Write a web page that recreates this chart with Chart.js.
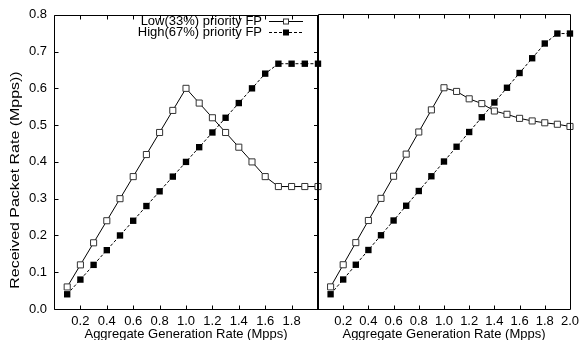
<!DOCTYPE html>
<html>
<head>
<meta charset="utf-8">
<script src="https://cdn.jsdelivr.net/npm/chart.js@4.4.1/dist/chart.umd.min.js"></script>
<style>
  body { margin: 0; background: #fff; }
  #wrap { position: relative; width: 584px; height: 340px; overflow: hidden; }
  #wrap canvas { position: absolute; top: 0; }
</style>
</head>
<body>
<div id="wrap">
  <canvas id="left" width="326" height="340" style="left:0;width:326px;height:340px"></canvas>
  <canvas id="right" width="284" height="340" style="left:300px;width:284px;height:340px"></canvas>
</div>
<script>
// generation rate (Mpps), same for every series
const rates = [0.1, 0.2, 0.3, 0.4, 0.5, 0.6, 0.7, 0.8, 0.9, 1.0, 1.1, 1.2, 1.3, 1.4, 1.5, 1.6, 1.7, 1.8, 1.9, 2.0];

// left panel
const leftLow  = [0.06, 0.12, 0.18, 0.24, 0.30, 0.36, 0.42, 0.48, 0.54, 0.60, 0.56, 0.52, 0.48, 0.44, 0.40, 0.36, 0.333, 0.333, 0.333, 0.333];
const leftHigh = [0.04, 0.08, 0.12, 0.16, 0.20, 0.24, 0.28, 0.32, 0.36, 0.40, 0.44, 0.48, 0.52, 0.56, 0.60, 0.64, 0.667, 0.667, 0.667, 0.667];

// right panel
const rightLow  = [0.06, 0.12, 0.18, 0.24, 0.30, 0.36, 0.42, 0.48, 0.54, 0.60, 0.59, 0.57, 0.557, 0.537, 0.528, 0.517, 0.510, 0.505, 0.501, 0.495];
const rightHigh = [0.04, 0.08, 0.12, 0.16, 0.20, 0.24, 0.28, 0.32, 0.36, 0.40, 0.44, 0.48, 0.52, 0.56, 0.60, 0.64, 0.68, 0.72, 0.747, 0.747];

const leftXTicks  = [0.2, 0.4, 0.6, 0.8, 1.0, 1.2, 1.4, 1.6, 1.8];
const rightXTicks = [0.2, 0.4, 0.6, 0.8, 1.0, 1.2, 1.4, 1.6, 1.8, 2.0];
const yTicks = [0.0, 0.1, 0.2, 0.3, 0.4, 0.5, 0.6, 0.7, 0.8];

const labelLow = 'Low(33%) priority FP';
const labelHigh = 'High(67%) priority FP';
const xTitle = 'Aggregate Generation Rate (Mpps)';
const yTitle = 'Received Packet Rate (Mpps))';

const FONT = '"Liberation Sans", Arial, Helvetica, sans-serif';
Chart.defaults.font.family = FONT;
Chart.defaults.color = '#000';

const pts = arr => arr.map((v, i) => ({ x: rates[i], y: v }));

function lowSet(arr) {
    return {
        label: labelLow, data: pts(arr),
        borderColor: '#000', borderWidth: 1,
        pointStyle: 'rect', pointRadius: 4.3, pointBorderWidth: 1,
        pointBackgroundColor: '#fff', pointBorderColor: '#333',
        clip: false
    };
}
function highSet(arr) {
    return {
        label: labelHigh, data: pts(arr),
        borderColor: '#000', borderWidth: 1, borderDash: [3, 2],
        pointStyle: 'rect', pointRadius: 4.5, pointBorderWidth: 0,
        pointBackgroundColor: '#000', pointBorderColor: '#000',
        clip: false
    };
}

function fixTicks(list) {
    return function(scale) { scale.ticks = list.map(v => ({ value: v })); };
}

function frameLine(ctx, x1, y1, x2, y2, w) {
    ctx.beginPath();
    ctx.lineWidth = w || 1;
    ctx.moveTo(x1, y1);
    ctx.lineTo(x2, y2);
    ctx.stroke();
}

function drawFrame(chart, xList, leftTicks, dividerTicks, dividerRight) {
    const ctx = chart.ctx, a = chart.chartArea;
    const xs = chart.scales.x, ys = chart.scales.y;
    const L = Math.round(a.left) + 0.5, T = Math.round(a.top) + 0.5;
    const B = Math.round(a.bottom) + 0.5, R = Math.round(a.right);
    ctx.save();
    ctx.strokeStyle = '#000';
    frameLine(ctx, L, T, R, T);
    frameLine(ctx, L, B, R, B);
    frameLine(ctx, L, T, L, B);
    if (dividerRight) frameLine(ctx, R, T - 0.5, R, B + 0.5, 2);
    else frameLine(ctx, R + 0.5, T, R + 0.5, B);
    xList.forEach(v => {
        const px = Math.round(xs.getPixelForValue(v)) + 0.5;
        frameLine(ctx, px, B, px, B - 4);
        frameLine(ctx, px, T, px, T + 4);
    });
    yTicks.forEach(v => {
        const py = Math.round(ys.getPixelForValue(v)) + 0.5;
        if (leftTicks) frameLine(ctx, L, py, L + 4, py);
        if (dividerTicks) frameLine(ctx, R - 1, py, R - 4, py);
    });
    ctx.restore();
}

const leftDecor = {
    id: 'leftDecor',
    afterDatasetsDraw(chart) {
        drawFrame(chart, leftXTicks, true, true, true);
        const ctx = chart.ctx;
        ctx.save();
        ctx.fillStyle = '#000';
        ctx.font = '12px ' + FONT;
        // y axis title (stretched along its length like the original)
        ctx.translate(16, 180);
        ctx.rotate(-Math.PI / 2);
        ctx.scale(1.33, 1);
        ctx.textAlign = 'center';
        ctx.textBaseline = 'middle';
        ctx.fillText(yTitle, 0, 0);
        ctx.restore();

        // legend
        ctx.save();
        ctx.font = '13px ' + FONT;
        ctx.textAlign = 'right';
        ctx.textBaseline = 'middle';
        ctx.fillStyle = '#000';
        const rows = [[labelLow, chart.data.datasets[0], 21], [labelHigh, chart.data.datasets[1], 32]];
        rows.forEach(([txt, ds, y]) => {
            ctx.fillText(txt, 262, y);
            ctx.strokeStyle = '#000';
            ctx.lineWidth = 1;
            ctx.setLineDash(ds.borderDash || []);
            frameLine(ctx, 269, y + 0.5, 303, y + 0.5);
            ctx.setLineDash([]);
            ctx.fillStyle = ds.pointBackgroundColor;
            ctx.fillRect(283, y - 2.5, 6, 6);
            if (ds.pointBorderWidth) {
                ctx.strokeStyle = ds.pointBorderColor;
                ctx.strokeRect(283.5, y - 2, 5, 5);
            }
            ctx.fillStyle = '#000';
        });
        ctx.restore();
    }
};

const rightDecor = {
    id: 'rightDecor',
    afterDatasetsDraw(chart) {
        drawFrame(chart, rightXTicks, false, false, false);
    }
};

function xScale(list) {
    return {
        type: 'linear', min: 0, max: 2.0,
        afterBuildTicks: fixTicks(list),
        afterFit(scale) { scale.height = 31; },
        grid: { display: false, drawTicks: false },
        border: { display: false },
        ticks: { font: { size: 13 }, padding: 5, maxRotation: 0, autoSkip: false, callback: v => v.toFixed(1) },
        title: { display: true, text: xTitle, font: { size: 13 }, padding: { top: 0, bottom: -2 } }
    };
}

const baseOptions = {
    responsive: false,
    animation: false,
    plugins: { legend: { display: false }, tooltip: { enabled: false } }
};

new Chart(document.getElementById('left'), {
    type: 'line',
    data: { datasets: [lowSet(leftLow), highSet(leftHigh)] },
    options: Object.assign({}, baseOptions, {
        layout: { padding: { left: 0, right: 8, top: 14, bottom: 0 } },
        scales: {
            x: xScale(leftXTicks),
            y: {
                type: 'linear', min: 0, max: 0.8,
                afterBuildTicks: fixTicks(yTicks),
                afterFit(scale) { scale.width = 54; },
                grid: { display: false, drawTicks: false },
                border: { display: false },
                ticks: { font: { size: 13 }, padding: 7, callback: v => v.toFixed(1) }
            }
        }
    }),
    plugins: [leftDecor]
});

new Chart(document.getElementById('right'), {
    type: 'line',
    data: { datasets: [lowSet(rightLow), highSet(rightHigh)] },
    options: Object.assign({}, baseOptions, {
        layout: { padding: { left: 18, right: 10, top: 14, bottom: 0 } },
        scales: {
            x: xScale(rightXTicks),
            y: { type: 'linear', min: 0, max: 0.8, display: false }
        }
    }),
    plugins: [rightDecor]
});
</script>
</body>
</html>
